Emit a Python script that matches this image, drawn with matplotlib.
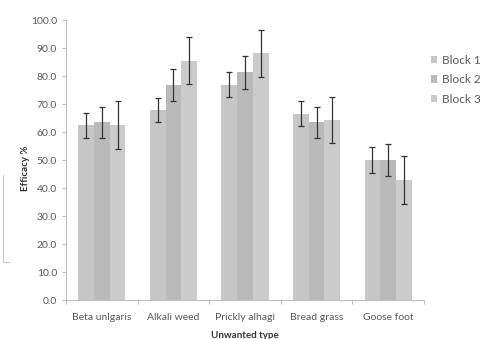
import matplotlib.pyplot as plt
import numpy as np
from matplotlib.lines import Line2D

categories = ['Beta unlgaris', 'Alkali weed', 'Prickly alhagi', 'Bread grass', 'Goose foot']
blocks = ['Block 1', 'Block 2', 'Block 3']
block1 = [62.4, 67.9, 76.9, 66.5, 50.0]
block2 = [63.5, 76.8, 81.4, 63.5, 50.0]
block3 = [62.5, 85.4, 88.2, 64.2, 42.9]
err1 = [4.4, 4.4, 4.4, 4.5, 4.5]
err2 = [5.5, 5.7, 5.9, 5.5, 5.6]
err3 = [8.4, 8.4, 8.4, 8.3, 8.5]

plt.rcParams['font.family'] = ['Lato', 'DejaVu Sans']
plt.rcParams['hatch.color'] = '#dedede'
plt.rcParams['hatch.linewidth'] = 0.6

fig = plt.figure(figsize=(4.83, 3.39), dpi=100)
ax = fig.add_axes([66 / 483, 1 - 300 / 339, 358 / 483, 280 / 339])

x = np.arange(len(categories))
w = 0.22
styles = [('#c6c6c6', None), ('#b9b9b9', '.....'), ('#cbcbcb', 'xxxx')]
for i, (vals, errs) in enumerate(zip([block1, block2, block3], [err1, err2, err3])):
    col, hatch = styles[i]
    ax.bar(x + (i - 1) * w, vals, w, color=col, hatch=hatch, edgecolor=col,
           linewidth=0, label=blocks[i])
    ax.errorbar(x + (i - 1) * w, vals, yerr=errs, fmt='none', ecolor='#333333',
                elinewidth=0.9, capsize=2.2, capthick=0.9)

ax.set_xlim(-0.5, 4.5)
ax.set_ylim(0, 100)
ax.set_yticks(np.arange(0, 101, 10))
ax.set_yticklabels([f'{v:.1f}' for v in np.arange(0, 101, 10)])
ax.set_xticks(x)
ax.set_xticklabels(categories)
ax.set_xticks(np.arange(-0.5, 4.6, 1), minor=True)
ax.tick_params(axis='x', which='major', length=0, pad=9, labelsize=7.5, labelcolor='#595959')
ax.tick_params(axis='x', which='minor', length=3, color='#bfbfbf', width=0.8)
ax.tick_params(axis='y', length=3, color='#bfbfbf', width=0.8, labelsize=7.5, labelcolor='#595959')
for s in ['top', 'right']:
    ax.spines[s].set_visible(False)
for s in ['left', 'bottom']:
    ax.spines[s].set_color('#bfbfbf')
    ax.spines[s].set_linewidth(0.8)

ax.set_ylabel('Efficacy %', fontsize=7, fontweight='bold', color='#333333')
ax.yaxis.set_label_coords(-0.10, 0.47)
ax.set_xlabel('Unwanted type', fontsize=7, fontweight='bold', color='#333333')
ax.xaxis.set_label_coords(0.5, -0.11)

handles, labels = ax.get_legend_handles_labels()
fig.legend(handles, labels, loc='upper left', bbox_to_anchor=(420 / 483, 1 - 44 / 339),
           frameon=False, fontsize=8.5, labelcolor='#595959', handlelength=0.55,
           handleheight=0.55, handletextpad=0.45, labelspacing=0.72)

# faint leftover line at the left edge of the scan
fig.add_artist(Line2D([3 / 483, 3 / 483, 9 / 483], [1 - 175 / 339, 1 - 262 / 339, 1 - 262 / 339],
                      color='#c8c8c8', linewidth=0.8))

fig.savefig('out.png', dpi=100)
